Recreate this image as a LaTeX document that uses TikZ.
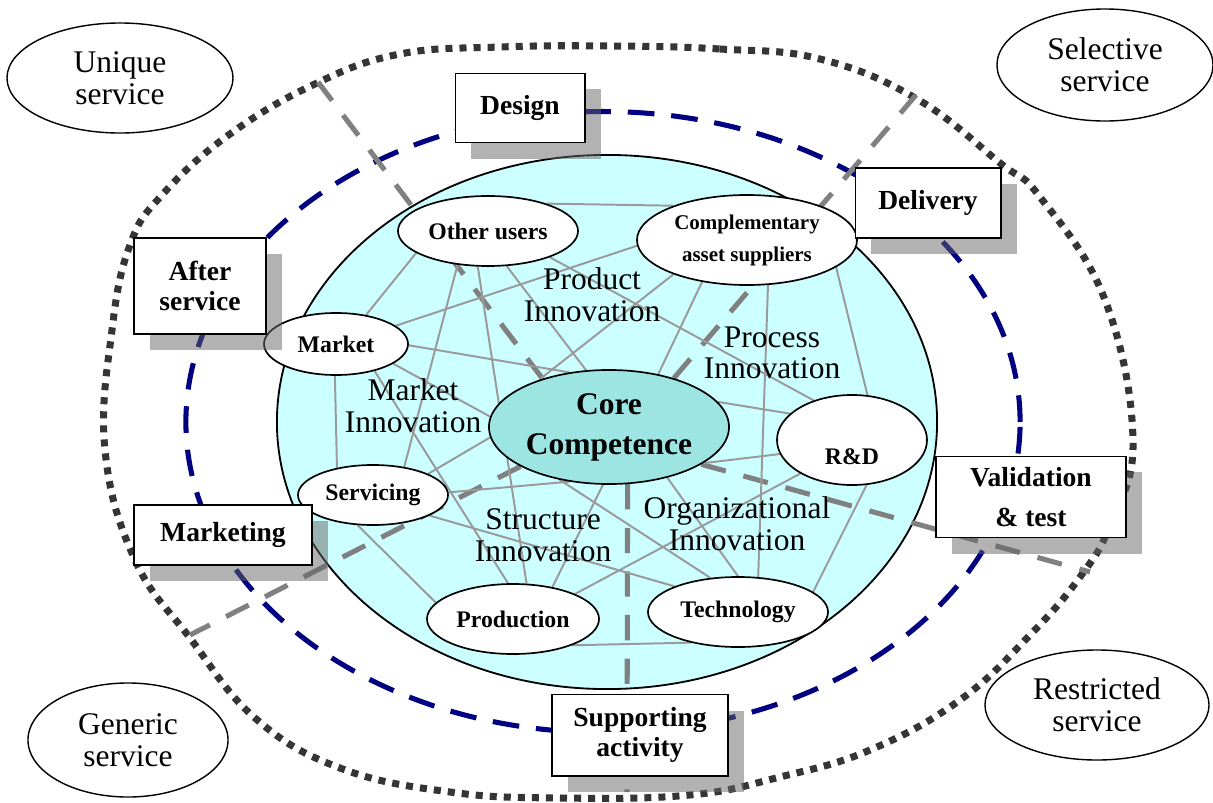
\documentclass[tikz,border=0pt]{standalone}
\usepackage{fontspec}
\setmainfont{Liberation Serif}
\usetikzlibrary{shapes.geometric, shadows}
\definecolor{ringgray}{HTML}{353535}
\definecolor{navyring}{HTML}{000080}
\definecolor{pool}{HTML}{CCFFFF}
\definecolor{corefill}{HTML}{9CE5E3}
\definecolor{link}{HTML}{9A9A9A}
\definecolor{split}{HTML}{808080}
\pgfdeclarelayer{back}
\pgfdeclarelayer{wires}
\pgfsetlayers{back,wires,main}
\tikzset{
  act/.style={draw, line width=1.4pt, fill=white, inner sep=0pt, align=center,
              font=\bfseries\fontsize{19.6}{21.8}\selectfont,
              drop shadow={shadow xshift=0.4cm, shadow yshift=-0.4cm,
                           fill=black!60, opacity=0.5}},
  unit/.style={ellipse, draw, line width=1.2pt, fill=white, inner sep=0pt,
               align=center, font=\bfseries\fontsize{16.9}{20}\selectfont},
  svc/.style={ellipse, draw, line width=1pt, fill=white, inner sep=0pt,
              align=center, font=\fontsize{22.4}{22.5}\selectfont},
  lbl/.style={align=center, inner sep=0pt, font=\fontsize{22.4}{22.5}\selectfont},
  ln/.style={link, line width=1.4pt},
  gd/.style={split, line width=3.6pt, dash pattern=on 18pt off 13pt},
}

\begin{document}
\begin{tikzpicture}[x=0.025cm, y=-0.025cm]
  \useasboundingbox (0,0) rectangle (1213,803);

  % rings and the innovation pool
  \begin{pgfonlayer}{back}
    \draw[ringgray, line width=5pt, dash pattern=on 5pt off 5pt]
      plot[smooth cycle, tension=0.7] coordinates {
        (610,46) (720,49) (820,59) (917,99) (1000,163) (1040,197) (1105,300)
        (1133,440) (1110,525) (1080,577) (1030,635) (960,700) (870,750)
        (780,777) (690,795) (560,798) (450,792) (340,768) (255,718) (190,638)
        (135,560) (105,450) (112,330) (130,245) (162,195) (230,134) (317,83)
        (400,54) (500,47)};
    \draw[navyring, line width=3.6pt, dash pattern=on 19pt off 12pt]
      (603,422) ellipse [x radius=10.425cm, y radius=7.76cm];
    \draw[line width=1.3pt, fill=pool]
      (607,422) ellipse [x radius=8.25cm, y radius=6.675cm];
  \end{pgfonlayer}

  % core and the units round it
  \node[ellipse, draw, line width=1.2pt, fill=corefill, inner sep=0pt,
        minimum width=6cm, minimum height=2.85cm, align=center,
        font=\bfseries\fontsize{22.4}{28.4}\selectfont] (core) at (609,427) {Core\\Competence};
  \node[unit, minimum width=4.5cm, minimum height=1.75cm] (ou) at (488,231) {Other users};
  \node[unit, minimum width=5.5cm, minimum height=2.25cm,
        font=\bfseries\fontsize{14.9}{22.7}\selectfont] (cas) at (747,240) {Complementary\\asset suppliers};
  \node[unit, minimum width=3.6cm, minimum height=1.55cm] (mk) at (336,344) {Market};
  \node[unit, minimum width=3.75cm, minimum height=2.25cm,
        text height=35pt, text depth=0pt] (rd) at (852,440) {R\&D};
  \node[unit, minimum width=3.75cm, minimum height=1.5cm] (sv) at (373,495) {Servicing};
  \node[unit, minimum width=4.3cm, minimum height=1.75cm] (pr) at (513,619) {Production};
  \node[unit, minimum width=4.5cm, minimum height=1.75cm] (tc) at (738,612) {Technology};

  % innovation fields
  \node[lbl] (prodi) at (592,295) {Product\\Innovation};
  \node[lbl] (proci) at (772,353) {Process\\Innovation};
  \node[lbl] (mkti) at (413,406) {Market\\Innovation};
  \node[lbl] (strui) at (543,535) {Structure\\Innovation};
  \node[lbl] (orgi) at (737,524) {Organizational\\Innovation};

  % service types
  \node[svc, minimum width=5.65cm, minimum height=2.75cm] (uniq) at (120,78) {Unique\\service};
  \node[svc, minimum width=5.4cm, minimum height=2.8cm] (sel) at (1105,65) {Selective\\service};
  \node[svc, minimum width=5cm, minimum height=2.85cm] (gen) at (128,740) {Generic\\service};
  \node[svc, minimum width=5.6cm, minimum height=2.75cm] (res) at (1097,705) {Restricted\\service};

  % value chain activities
  \node[act, minimum width=3.225cm, minimum height=1.725cm] (des) at (520,108) {Design};
  \node[act, minimum width=3.625cm, minimum height=1.75cm] (del) at (928,203) {Delivery};
  \node[act, minimum width=3.275cm, minimum height=2.4cm] (aft) at (200,286) {After\\service};
  \node[act, minimum width=4.425cm, minimum height=1.5cm] (mkg) at (223,535) {Marketing};
  \node[act, minimum width=4.75cm, minimum height=2.025cm,
        font=\bfseries\fontsize{19.6}{28.5}\selectfont] (val) at (1031,497) {Validation\\\& test};
  \node[act, minimum width=4.4cm, minimum height=2.025cm] (sup) at (640,735) {Supporting\\activity};

  \coordinate (gnw) at (318,82);
  \coordinate (gne) at (916,95);
  \coordinate (gsw) at (190,635);
  \coordinate (gs) at (627,792);
  \coordinate (ge) at (1090,572);

  \begin{pgfonlayer}{wires}
    % boundaries between the fields
    \draw[gd] (core.144) -- (gnw);
    \draw[gd] (core.37) -- (gne);
    \draw[gd] (core.204) -- (gsw);
    \draw[gd] (core.288) -- (gs);
    \draw[gd] (core.338) -- (ge);
    % links between the units
    \draw[ln] (ou.25) -- (cas.155);
    \draw[ln] (ou.197) -- (mk.44);
    \draw[ln] (cas.183) -- (mk.17);
    \draw[ln] (ou.228) -- (sv.42);
    \draw[ln] (ou.254) -- (pr.69);
    \draw[ln] (ou.298) -- (core.112);
    \draw[ln] (ou.337) -- (rd.134);
    \draw[ln] (cas.205) -- (core.146);
    \draw[ln] (cas.223) -- (core.47);
    \draw[ln] (cas.295) -- (tc.60);
    \draw[ln] (cas.343) -- (rd.71);
    \draw[ln] (mk.359) -- (core.126);
    \draw[ln] (mk.341) -- (core.175);
    \draw[ln] (mk.325) -- (pr.98);
    \draw[ln] (mk.268) -- (sv.143);
    \draw[ln] (sv.21) -- (core.185);
    \draw[ln] (sv.2) -- (core.234);
    \draw[ln] (sv.340) -- (tc.158);
    \draw[ln] (sv.243) -- (pr.168);
    \draw[ln] (core.227) -- (tc.129);
    \draw[ln] (core.264) -- (pr.39);
    \draw[ln] (core.319) -- (tc.90);
    \draw[ln] (core.13) -- (rd.157);
    \draw[ln] (rd.191) -- (core.339);
    \draw[ln] (rd.213) -- (pr.22);
    \draw[ln] (rd.288) -- (tc.15);
    \draw[ln] (pr.336) -- (tc.213);
  \end{pgfonlayer}
\end{tikzpicture}
\end{document}
